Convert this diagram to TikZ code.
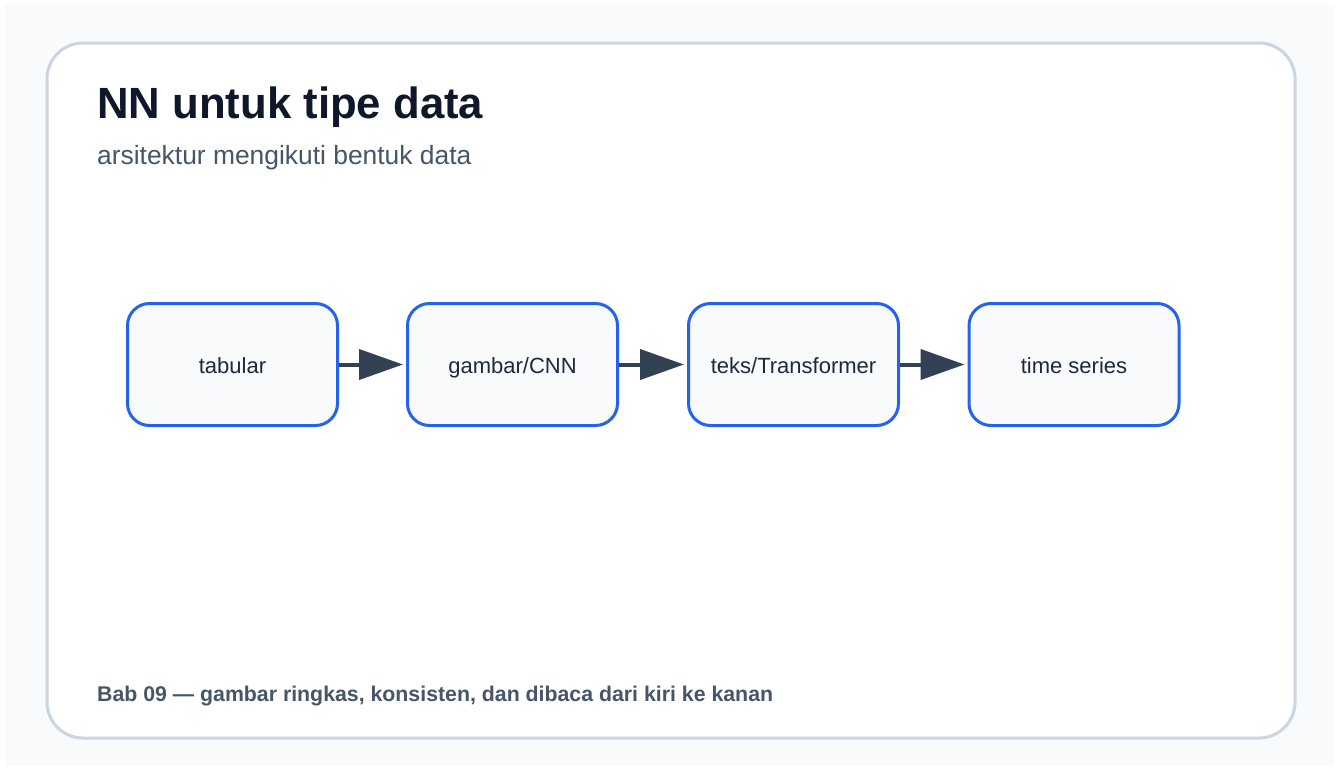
\documentclass[tikz,border=0pt]{standalone}
\usepackage{fontspec}
\setmainfont{Liberation Sans}
\usetikzlibrary{arrows.meta}
\definecolor{pagebg}{HTML}{F8FAFC}
\definecolor{cardline}{HTML}{CBD5E1}
\definecolor{boxline}{HTML}{2563EB}
\definecolor{boxfill}{HTML}{F8FAFC}
\definecolor{arrowc}{HTML}{334155}
\definecolor{titlec}{HTML}{0F172A}
\definecolor{subc}{HTML}{475569}
\definecolor{nodetext}{HTML}{1E293B}
\tikzset{
  stagebox/.style={draw=boxline, line width=3pt, fill=boxfill, rounded corners=22pt,
    minimum width=210pt, minimum height=122pt, inner sep=0pt,
    text height=19pt, text depth=1pt,
    font=\fontsize{22}{26}\selectfont, text=nodetext},
  flow/.style={draw=arrowc, line width=4pt, -{Triangle[length=44pt,width=30pt]}, shorten >=3pt}
}
\begin{document}
\begin{tikzpicture}[x=1pt,y=-1pt]
\useasboundingbox (0,0) rectangle (1339,771);
\fill[white] (0,0) rectangle (1339,771);
\fill[pagebg] (5,5) rectangle (1334,766);
\draw[cardline, line width=3pt, fill=white, rounded corners=36pt] (47,43) rectangle (1295,738);
\node[anchor=base west, inner sep=0pt, text=titlec, font=\fontsize{43.7}{50}\selectfont\bfseries] (title) at (97,118) {NN untuk tipe data};
\node[anchor=base west, inner sep=0pt, text=subc, font=\fontsize{26.4}{30}\selectfont] (sub) at (97,164) {arsitektur mengikuti bentuk data};
\node[stagebox] (a) at (232.5,364.5) {tabular};
\node[stagebox] (b) at (512.5,364.5) {gambar/CNN};
\node[stagebox] (c) at (793.5,364.5) {teks/Transformer};
\node[stagebox] (d) at (1074,364.5) {time series};
\draw[flow] (a.east) -- (b.west);
\draw[flow] (b.east) -- (c.west);
\draw[flow] (c.east) -- (d.west);
\node[anchor=base west, inner sep=0pt, text=subc, font=\fontsize{21.3}{24}\selectfont\bfseries] (foot) at (97,701) {Bab 09 — gambar ringkas, konsisten, dan dibaca dari kiri ke kanan};
\end{tikzpicture}
\end{document}
